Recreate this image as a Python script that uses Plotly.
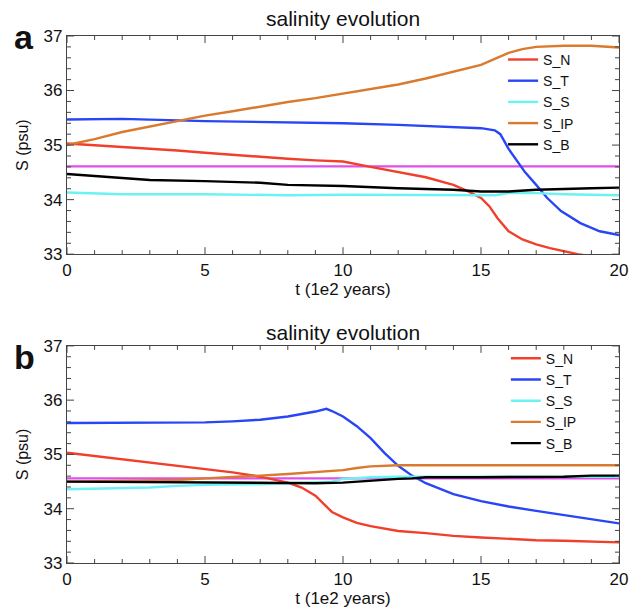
import plotly.graph_objects as go

# ---------------- Panel a data ----------------
a_N_t = [0, 1, 2, 3, 4, 5, 6, 7, 8, 9, 10, 11, 12, 13, 14, 14.5, 15, 15.3, 15.6, 16, 16.5, 17, 17.5, 18, 18.5, 19, 20]
a_N_s = [35.03, 35.0, 34.97, 34.94, 34.9, 34.86, 34.82, 34.79, 34.75, 34.72, 34.70, 34.60, 34.51, 34.41, 34.27, 34.16, 34.03, 33.88, 33.66, 33.42, 33.27, 33.18, 33.11, 33.05, 33.0, 32.96, 32.9]

a_T_t = [0, 2, 5, 8, 10, 12, 14, 15, 15.5, 15.7, 16.0, 16.4, 16.6, 17.0, 17.4, 17.9, 18.6, 19.3, 20]
a_T_s = [35.47, 35.48, 35.44, 35.42, 35.40, 35.37, 35.33, 35.31, 35.27, 35.2, 34.93, 34.63, 34.5, 34.27, 34.03, 33.79, 33.57, 33.42, 33.35]

a_S_t = [0, 2, 5, 8, 10, 14, 15.5, 16, 17, 18, 20]
a_S_s = [34.13, 34.10, 34.10, 34.08, 34.09, 34.08, 34.08, 34.12, 34.12, 34.10, 34.08]

a_IP_t = [0, 1, 2, 3, 4, 5, 6, 7, 8, 9, 10, 11, 12, 13, 14, 15, 15.5, 16, 16.5, 17, 18, 19, 20]
a_IP_s = [35.0, 35.11, 35.24, 35.34, 35.44, 35.54, 35.62, 35.71, 35.79, 35.86, 35.94, 36.02, 36.11, 36.22, 36.34, 36.47, 36.58, 36.69, 36.76, 36.80, 36.82, 36.82, 36.79]

a_B_t = [0, 2, 3, 5, 7, 8, 9, 10, 12, 14, 15, 16, 17, 18, 19, 20]
a_B_s = [34.47, 34.39, 34.36, 34.34, 34.31, 34.27, 34.26, 34.25, 34.21, 34.18, 34.15, 34.15, 34.18, 34.20, 34.21, 34.22]

a_ref_t = [0, 20]
a_ref_s = [34.61, 34.61]

# ---------------- Panel b data ----------------
b_N_t = [0, 1, 2, 3, 4, 5, 6, 7, 8, 8.5, 9, 9.3, 9.6, 10, 10.5, 11, 12, 13, 14, 15, 16, 17, 18, 19, 20]
b_N_s = [35.03, 34.97, 34.91, 34.85, 34.79, 34.73, 34.67, 34.59, 34.48, 34.39, 34.24, 34.09, 33.94, 33.84, 33.74, 33.68, 33.59, 33.55, 33.50, 33.47, 33.44, 33.42, 33.41, 33.39, 33.38]

b_T_t = [0, 5, 6, 7, 8, 8.5, 9, 9.4, 9.6, 10, 10.5, 11, 11.5, 12, 12.5, 13, 14, 15, 16, 17, 18, 19, 20]
b_T_s = [35.58, 35.59, 35.61, 35.64, 35.70, 35.74, 35.79, 35.84, 35.80, 35.70, 35.52, 35.30, 35.03, 34.79, 34.61, 34.47, 34.27, 34.14, 34.04, 33.96, 33.88, 33.81, 33.73]

b_S_t = [0, 2, 3, 4, 5, 7, 8, 9.6, 10, 11, 12, 15, 20]
b_S_s = [34.36, 34.38, 34.39, 34.42, 34.44, 34.45, 34.47, 34.50, 34.55, 34.58, 34.59, 34.59, 34.59]

b_IP_t = [0, 3, 4, 5, 6, 7, 8, 9, 10, 10.5, 11, 12, 13, 15, 17, 20]
b_IP_s = [34.50, 34.52, 34.53, 34.56, 34.58, 34.61, 34.64, 34.68, 34.71, 34.75, 34.78, 34.80, 34.80, 34.79, 34.79, 34.80]

b_B_t = [0, 5, 8, 9, 10, 11, 12, 12.5, 13, 15, 18, 19, 20]
b_B_s = [34.50, 34.48, 34.48, 34.47, 34.48, 34.52, 34.55, 34.56, 34.58, 34.58, 34.59, 34.61, 34.61]

b_ref_t = [0, 20]
b_ref_s = [34.56, 34.56]

names = ["S_N", "S_T", "S_S", "S_IP", "S_B"]

# ---------------- tick values ----------------
x_major_ticks = [0, 5, 10, 15, 20]
x_minor_ticks = [1, 2, 3, 4, 6, 7, 8, 9, 11, 12, 13, 14, 16, 17, 18, 19]
y_major_ticks = [33, 34, 35, 36, 37]
y_minor_ticks = [33.2, 33.4, 33.6, 33.8, 34.2, 34.4, 34.6, 34.8, 35.2, 35.4, 35.6, 35.8,
                 36.2, 36.4, 36.6, 36.8]

colors = ["#f0402c", "#2846f5", "#6cf2f2", "#d97a2e", "#000000"]
ref_color = "#e04ee8"
FONT = "Liberation Sans, Arial, Helvetica, sans-serif"
TICKC = "#444444"

fig = go.Figure()

panels = [
    ([(a_N_t, a_N_s), (a_T_t, a_T_s), (a_S_t, a_S_s), (a_IP_t, a_IP_s), (a_B_t, a_B_s)], (a_ref_t, a_ref_s), "x", "y", "legend"),
    ([(b_N_t, b_N_s), (b_T_t, b_T_s), (b_S_t, b_S_s), (b_IP_t, b_IP_s), (b_B_t, b_B_s)], (b_ref_t, b_ref_s), "x2", "y2", "legend2"),
]

shapes = []
for series, ref, xa, ya, leg in panels:
    fig.add_trace(go.Scatter(x=ref[0], y=ref[1], mode="lines", line=dict(color=ref_color, width=2.2),
                             showlegend=False, xaxis=xa, yaxis=ya, hoverinfo="skip"))
    for (t, s), nm, c in zip(series, names, colors):
        fig.add_trace(go.Scatter(x=t, y=s, mode="lines", name=nm, line=dict(color=c, width=2.4),
                                 xaxis=xa, yaxis=ya, legend=leg))
    # inside tick marks on all four sides, placed through the axes
    for vals, ln in ((x_major_ticks, 7), (x_minor_ticks, 4)):
        for v in vals:
            for anchor, sign in ((0, 1), (1, -1)):
                shapes.append(dict(type="line", xref=xa, yref=ya + " domain", ysizemode="pixel",
                                   yanchor=anchor, x0=v, x1=v, y0=0, y1=sign * ln,
                                   line=dict(color=TICKC, width=1)))
    for vals, ln in ((y_major_ticks, 7), (y_minor_ticks, 4)):
        for v in vals:
            for anchor, sign in ((0, 1), (1, -1)):
                shapes.append(dict(type="line", yref=ya, xref=xa + " domain", xsizemode="pixel",
                                   xanchor=anchor, y0=v, y1=v, x0=0, x1=sign * ln,
                                   line=dict(color=TICKC, width=1)))

axis_common = dict(
    range=[0, 20], showgrid=False, zeroline=False, showline=True, linecolor="#444444", linewidth=1.3,
    mirror=True, ticks="", tickmode="array", tickvals=x_major_ticks,
    tickfont=dict(family=FONT, size=17, color="#111111"),
)
yaxis_common = dict(
    range=[33, 37], showgrid=False, zeroline=False, showline=True, linecolor="#444444", linewidth=1.3,
    mirror=True, ticks="", tickmode="array", tickvals=y_major_ticks,
    tickfont=dict(family=FONT, size=17, color="#111111"),
)

fig.update_layout(
    width=640, height=613,
    margin=dict(l=67, r=19, t=36, b=43),
    paper_bgcolor="white", plot_bgcolor="white",
    font=dict(family=FONT, color="#111111"),
    shapes=shapes,
    xaxis=dict(axis_common, domain=[0, 1], anchor="y",
               title=dict(text="t (1e2 years)", font=dict(size=17), standoff=1)),
    yaxis=dict(yaxis_common, domain=[0.586, 1], anchor="x",
               title=dict(text="S (psu)", font=dict(size=16), standoff=10)),
    xaxis2=dict(axis_common, domain=[0, 1], anchor="y2",
                title=dict(text="t (1e2 years)", font=dict(size=17), standoff=1)),
    yaxis2=dict(yaxis_common, domain=[0, 0.412], anchor="x2",
                title=dict(text="S (psu)", font=dict(size=16), standoff=10)),
    legend=dict(x=0.79, y=0.985, xanchor="left", yanchor="top", bgcolor="rgba(0,0,0,0)",
                font=dict(family=FONT, size=14), tracegroupgap=0, itemwidth=30),
    legend2=dict(x=0.795, y=0.418, xanchor="left", yanchor="top", bgcolor="rgba(0,0,0,0)",
                 font=dict(family=FONT, size=14), tracegroupgap=0, itemwidth=30),
    showlegend=True,
    annotations=[
        dict(text="salinity evolution", xref="paper", yref="paper", x=0.5, y=1.0, yshift=4,
             xanchor="center", yanchor="bottom", showarrow=False, font=dict(family=FONT, size=21)),
        dict(text="salinity evolution", xref="paper", yref="paper", x=0.5, y=0.412, yshift=0,
             xanchor="center", yanchor="bottom", showarrow=False, font=dict(family=FONT, size=21)),
        dict(text="<b>a</b>", xref="paper", yref="paper", x=0, y=1.0, xshift=-43, yshift=-1,
             xanchor="center", yanchor="middle", showarrow=False, font=dict(family=FONT, size=34)),
        dict(text="<b>b</b>", xref="paper", yref="paper", x=0, y=0.412, xshift=-43, yshift=-11,
             xanchor="center", yanchor="middle", showarrow=False, font=dict(family=FONT, size=34)),
    ],
)

fig.write_html("out.html")
